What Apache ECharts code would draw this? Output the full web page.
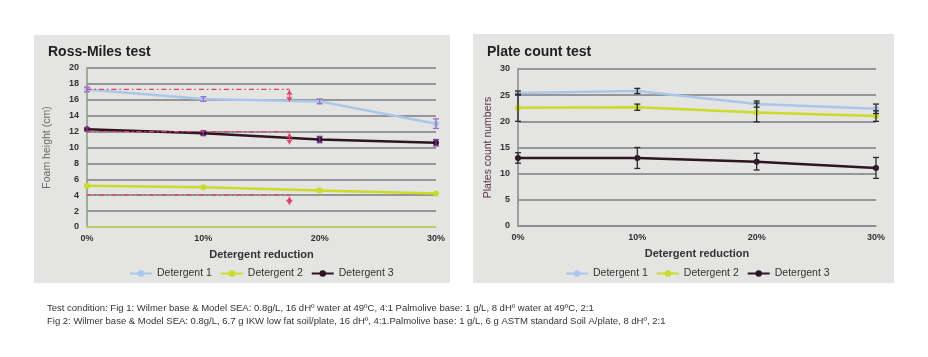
<!DOCTYPE html>
<html><head><meta charset="utf-8">
<script src="https://cdn.jsdelivr.net/npm/echarts@6/dist/echarts.min.js"></script>
<style>html,body{margin:0;padding:0;background:#fff}#c{width:928px;height:357px}</style>
</head><body><div id="c"></div>
<script>
// ---- data ----
const xValues = [0, 10, 20, 30];           // detergent reduction (%)
const seriesNames = ['Detergent 1', 'Detergent 2', 'Detergent 3'];
// Ross-Miles test (foam height, cm)
const rmD1 = [17.3, 16.1, 15.8, 13.0];
const rmD1Err = [0.3, 0.3, 0.3, 0.6];
const rmD2 = [5.2, 5.0, 4.6, 4.2];
const rmD2Err = [0, 0, 0, 0];
const rmD3 = [12.3, 11.8, 11.0, 10.6];
const rmD3Err = [0.2, 0.3, 0.4, 0.4];
// reference (dash-dot) levels and arrows on Ross-Miles chart
const rmRefLevels = [17.3, 12, 4];
const rmRefFrom = -2.2, rmRefTo = 17.4;
const rmArrowX = 17.4;
const rmArrows = [[17.2, 15.8], [11.8, 10.4], [3.8, 2.8]];
// Plate count test
const pcD1 = [25.4, 25.8, 23.3, 22.4];
const pcD1Err = [0.4, 0.5, 0.6, 0.9];
const pcD2 = [22.6, 22.7, 21.7, 21.0];
const pcD2Err = [2.6, 0.6, 1.8, 1.0];
const pcD3 = [13.0, 13.0, 12.3, 11.1];
const pcD3Err = [1.0, 2.0, 1.6, 2.0];
const footnote1 = 'Test condition: Fig 1: Wilmer base & Model SEA: 0.8g/L, 16 dHº water at 49ºC, 4:1 Palmolive base: 1 g/L, 8 dHº water at 49ºC, 2:1';
const footnote2 = 'Fig 2: Wilmer base & Model SEA: 0.8g/L, 6.7 g IKW low fat soil/plate, 16 dHº, 4:1.Palmolive base: 1 g/L, 6 g ASTM standard Soil A/plate, 8 dHº, 2:1';

// ---- styles ----
const colors = ['#a8c8ea', '#c9dc2a', '#2e1424'];
const FONT = '"Liberation Sans Narrow","Liberation Sans",Arial,sans-serif';
const pair = (vals) => xValues.map((x, i) => [x, vals[i]]);

function lineSeries(name, vals, color, idx) {
  return {
    name, type: 'line', xAxisIndex: idx, yAxisIndex: idx, data: pair(vals),
    symbol: 'circle', symbolSize: 6, color,
    lineStyle: { width: 2.5, color }, itemStyle: { color }, z: 3
  };
}
function errSeries(vals, errs, color, idx) {
  return {
    type: 'custom', xAxisIndex: idx, yAxisIndex: idx, silent: true, z: 4,
    data: xValues.map((x, i) => [x, vals[i] - errs[i], vals[i] + errs[i]]).filter(d => d[2] > d[1]),
    renderItem(params, api) {
      const lo = api.coord([api.value(0), api.value(1)]);
      const hi = api.coord([api.value(0), api.value(2)]);
      const w = 3;
      const st = { stroke: color, lineWidth: 1.3 };
      return { type: 'group', children: [
        { type: 'line', shape: { x1: lo[0], y1: lo[1], x2: hi[0], y2: hi[1] }, style: st },
        { type: 'line', shape: { x1: lo[0] - w, y1: lo[1], x2: lo[0] + w, y2: lo[1] }, style: st },
        { type: 'line', shape: { x1: hi[0] - w, y1: hi[1], x2: hi[0] + w, y2: hi[1] }, style: st }
      ]};
    }
  };
}

const series = [
  lineSeries(seriesNames[0], rmD1, colors[0], 0),
  lineSeries(seriesNames[1], rmD2, colors[1], 0),
  lineSeries(seriesNames[2], rmD3, colors[2], 0),
  errSeries(rmD1, rmD1Err, '#9b6cc8', 0),
  errSeries(rmD2, rmD2Err, '#9b6cc8', 0),
  errSeries(rmD3, rmD3Err, '#7a3a9a', 0),
  lineSeries(seriesNames[0], pcD1, colors[0], 1),
  lineSeries(seriesNames[1], pcD2, colors[1], 1),
  lineSeries(seriesNames[2], pcD3, colors[2], 1),
  errSeries(pcD1, pcD1Err, '#2a2a2a', 1),
  errSeries(pcD2, pcD2Err, '#2a2a2a', 1),
  errSeries(pcD3, pcD3Err, '#2a2a2a', 1)
];
rmRefLevels.forEach(v => series.push({
  type: 'line', xAxisIndex: 0, yAxisIndex: 0, clip: false, silent: true, symbol: 'none', z: 5,
  data: [[rmRefFrom, v], [rmRefTo, v]],
  lineStyle: { color: '#e0406a', width: 1.3, type: [5, 3, 1.5, 3] }
}));
series.push({
  type: 'line', xAxisIndex: 0, yAxisIndex: 0, silent: true, symbol: 'none', data: [],
  markLine: {
    silent: true, symbol: ['arrow', 'arrow'], symbolSize: [5, 5], label: { show: false },
    lineStyle: { color: '#e0406a', width: 1.2, type: 'solid' },
    data: rmArrows.map(a => [{ coord: [rmArrowX, a[0]] }, { coord: [rmArrowX, a[1]] }])
  }
});

const axisLabelStyle = { color: '#333', fontSize: 9, fontWeight: 'bold', fontFamily: FONT };
function xAxis(idx, axisColor) {
  return {
    type: 'value', gridIndex: idx, min: 0, max: 30, interval: 10,
    name: 'Detergent reduction', nameLocation: 'middle', nameGap: 22,
    nameTextStyle: { color: '#333', fontSize: 11, fontWeight: 'bold', fontFamily: FONT },
    axisLine: { show: true, lineStyle: { color: axisColor, width: 1.5 } },
    axisTick: { show: false }, splitLine: { show: false },
    axisLabel: Object.assign({ formatter: '{value}%', margin: 7 }, axisLabelStyle)
  };
}

const option = {
  animation: false,
  textStyle: { fontFamily: FONT },
  graphic: [
    { type: 'rect', shape: { x: 34, y: 35, width: 416, height: 248 }, style: { fill: '#e4e4e2' }, z: -10 },
    { type: 'rect', shape: { x: 473, y: 34, width: 421, height: 249 }, style: { fill: '#e4e4e2' }, z: -10 }
  ],
  title: [
    { text: 'Ross-Miles test', left: 43, top: 40, textStyle: { fontSize: 14, fontWeight: 'bold', color: '#222', fontFamily: '"Liberation Sans",Arial,sans-serif' } },
    { text: 'Plate count test', left: 482, top: 40, textStyle: { fontSize: 14, fontWeight: 'bold', color: '#222', fontFamily: '"Liberation Sans",Arial,sans-serif' } },
    { text: footnote1, left: 42, top: 298, textStyle: { fontSize: 9.5, fontWeight: 'normal', color: '#333', fontFamily: FONT } },
    { text: footnote2, left: 42, top: 311, textStyle: { fontSize: 9.5, fontWeight: 'normal', color: '#333', fontFamily: FONT } }
  ],
  legend: [
    { data: seriesNames, left: 124, top: 263, itemWidth: 22, itemHeight: 8, itemGap: 8,
      textStyle: { color: '#333', fontSize: 10.5, fontFamily: FONT } },
    { data: seriesNames, left: 560, top: 263, itemWidth: 22, itemHeight: 8, itemGap: 8,
      textStyle: { color: '#333', fontSize: 10.5, fontFamily: FONT } }
  ],
  grid: [
    { left: 87, right: 492, top: 68, bottom: 130 },
    { left: 518, right: 52, top: 69, bottom: 131 }
  ],
  xAxis: [xAxis(0, '#c9dc5a'), xAxis(1, '#8a8a8a')],
  yAxis: [
    { type: 'value', gridIndex: 0, min: 0, max: 20, interval: 2,
      name: 'Foam height (cm)', nameLocation: 'middle', nameGap: 34,
      nameTextStyle: { color: '#6a6a6a', fontSize: 10.5, fontFamily: FONT },
      axisLine: { show: true, lineStyle: { color: '#8a9a80', width: 1.5 } }, axisTick: { show: false },
      splitLine: { show: true, lineStyle: { color: '#7c7c7c', width: 1.5 } },
      axisLabel: Object.assign({ margin: 8 }, axisLabelStyle) },
    { type: 'value', gridIndex: 1, min: 0, max: 30, interval: 5,
      name: 'Plates count numbers', nameLocation: 'middle', nameGap: 24,
      nameTextStyle: { color: '#5a3448', fontSize: 10.5, fontFamily: FONT },
      axisLine: { show: true, lineStyle: { color: '#8a8a8a', width: 1.5 } }, axisTick: { show: false },
      splitLine: { show: true, lineStyle: { color: '#7c7c7c', width: 1.5 } },
      axisLabel: Object.assign({ margin: 8 }, axisLabelStyle) }
  ],
  series
};
const chart = echarts.init(document.getElementById('c'), null, { renderer: 'canvas' });
chart.setOption(option);
</script></body></html>
